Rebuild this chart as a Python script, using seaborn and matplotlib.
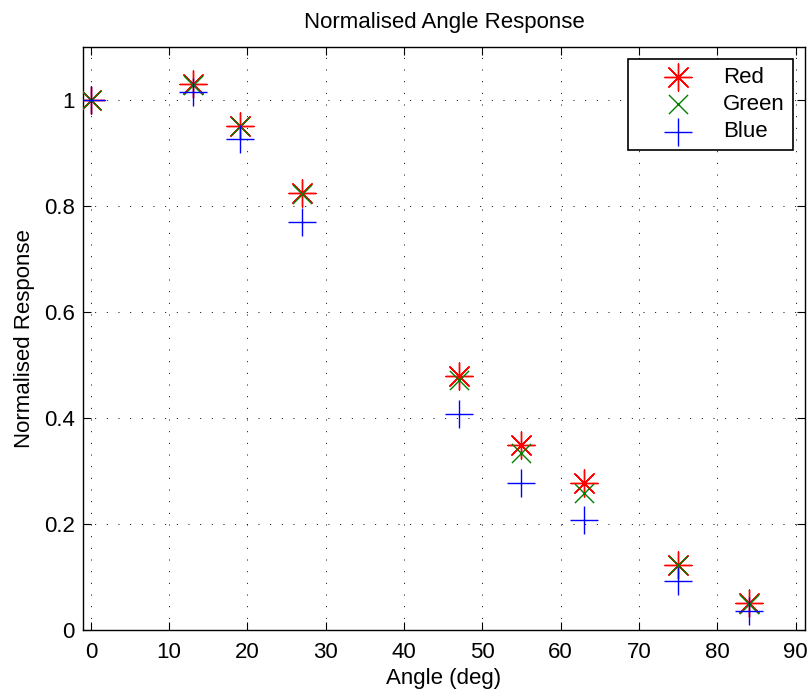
import matplotlib
matplotlib.use("Agg")
import matplotlib.pyplot as plt
import seaborn as sns
import pandas as pd

angles = [0, 13, 19, 27, 47, 55, 63, 75, 84]
red = [1.0, 1.031, 0.951, 0.825, 0.480, 0.349, 0.277, 0.123, 0.050]
green = [1.0, 1.028, 0.950, 0.822, 0.472, 0.333, 0.259, 0.122, 0.049]
blue = [1.0, 1.015, 0.926, 0.770, 0.408, 0.278, 0.207, 0.093, 0.036]

series_names = ["Red", "Green", "Blue"]
series_values = [red, green, blue]
series_colors = ["#ff0000", "#008000", "#0000ff"]
series_markers = [(8, 2, 0), "x", "+"]
series_sizes = [380, 190, 400]

sns.set_style("ticks")
plt.rcParams["font.family"] = ["Liberation Sans", "DejaVu Sans"]
plt.rcParams["text.color"] = "black"
plt.rcParams["axes.labelcolor"] = "black"

FS = 16

fig = plt.figure(figsize=(8.09, 6.91), dpi=100)
ax = fig.add_axes([0.1026, 0.0883, 0.8924, 0.8437])

for name, vals, col, mk, sz in zip(series_names, series_values, series_colors,
                                   series_markers, series_sizes):
    df = pd.DataFrame({"Angle": angles, "Response": vals})
    sns.scatterplot(data=df, x="Angle", y="Response", ax=ax, marker=mk,
                    color=col, s=sz, linewidth=1.0, label=name, zorder=3)

ax.set_xlim(-1, 91.2)
ax.set_ylim(0, 1.1)
ax.set_xticks(range(0, 91, 10))
ax.set_yticks([0, 0.2, 0.4, 0.6, 0.8, 1.0])
ax.set_yticklabels(["0", "0.2", "0.4", "0.6", "0.8", "1"])
ax.grid(True, color="black", linestyle=(0, (1, 11)), linewidth=0.7)
ax.tick_params(direction="in", length=6, width=0.8, top=True, right=True,
               labelsize=FS, colors="black")
ax.tick_params(axis="x", pad=9)
ax.tick_params(axis="y", pad=6)
for sp in ax.spines.values():
    sp.set_visible(True)
    sp.set_linewidth(1.0)
    sp.set_color("black")

ax.set_xlabel("Angle (deg)", fontsize=FS, labelpad=3)
ax.set_ylabel("Normalised Response", fontsize=FS, labelpad=6)
ax.set_title("Normalised Angle Response", fontsize=FS, pad=14)

leg = ax.legend(loc="upper right", fontsize=FS, frameon=True, fancybox=False,
                edgecolor="black", framealpha=1, borderpad=0.35,
                handletextpad=0.15, labelspacing=0.28, borderaxespad=0.55,
                handlelength=3.8)
leg.get_frame().set_linewidth(1.2)

fig.savefig("out.png", dpi=100)
